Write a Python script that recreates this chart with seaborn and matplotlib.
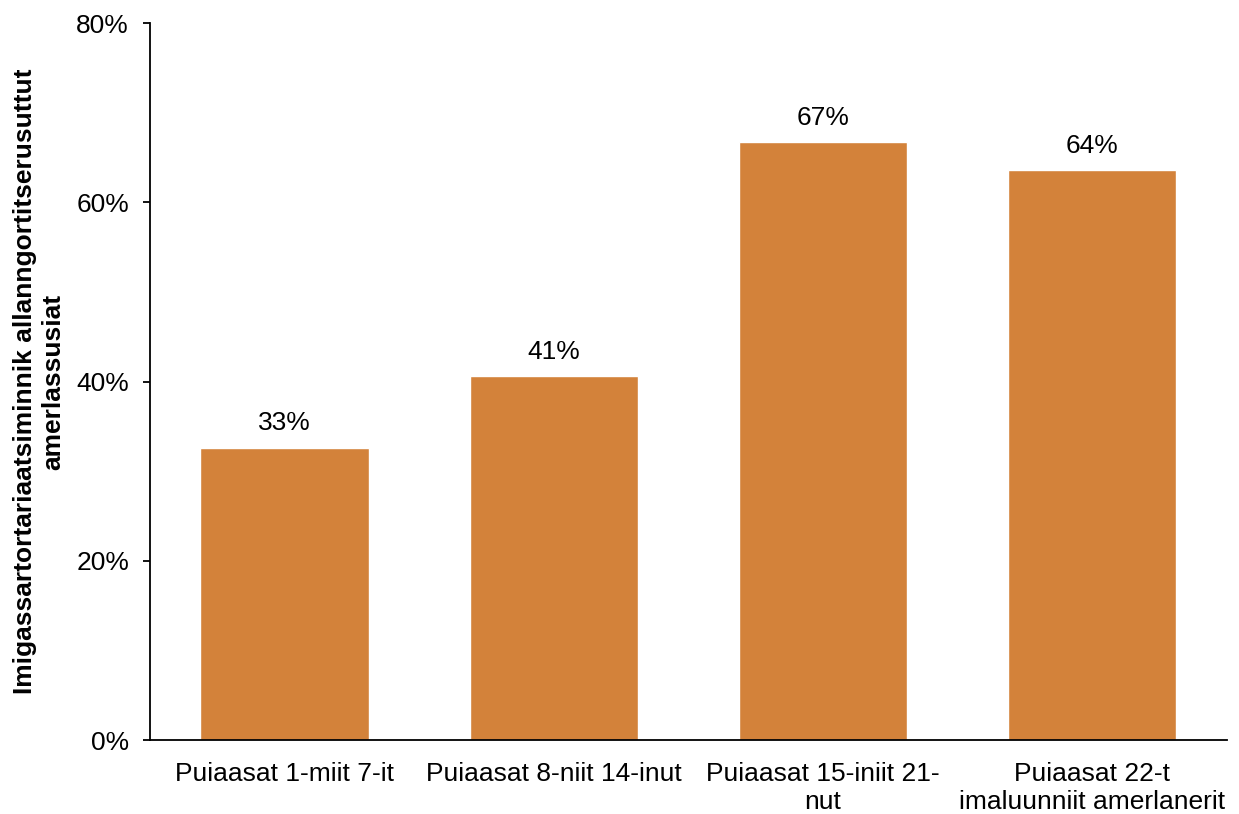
import matplotlib
matplotlib.use("Agg")
import matplotlib.pyplot as plt
import seaborn as sns
import pandas as pd
from matplotlib.ticker import FuncFormatter

categories = ["Puiaasat 1-miit 7-it", "Puiaasat 8-niit 14-inut",
              "Puiaasat 15-iniit 21-\nnut", "Puiaasat 22-t\nimaluunniit amerlanerit"]
values = [32.6, 40.6, 66.7, 63.6]
labels = ["33%", "41%", "67%", "64%"]
ylabel = "Imigassartortariaatsiminnik allanngortitserusuttut\namerlassusiat"

sns.set_theme(style="white")
plt.rcParams['font.family'] = ['Liberation Sans', 'DejaVu Sans']

df = pd.DataFrame({"cat": categories, "val": values})

fig = plt.figure(figsize=(12.39, 8.14), dpi=100)
ax = fig.add_axes([0.121, 0.0909, 0.869, 0.8808])
sns.barplot(data=df, x="cat", y="val", color="#D3823A", saturation=1, width=0.625, ax=ax)

for p, lab in zip(ax.patches, labels):
    ax.annotate(lab, (p.get_x() + p.get_width() / 2, p.get_height()),
                xytext=(0, 9), textcoords="offset points",
                ha="center", va="bottom", fontsize=19, color="black")

ax.set_ylim(0, 80)
ax.set_xlim(-0.5, 3.5)
ax.set_yticks([0, 20, 40, 60, 80])
ax.yaxis.set_major_formatter(FuncFormatter(lambda v, _: f"{v:.0f}%"))
ax.set_xlabel("")
ax.set_ylabel(ylabel, fontsize=19, fontweight="bold", labelpad=8, color="black")
ax.tick_params(axis="y", left=True, length=5, width=1.3, labelsize=19, colors="black", pad=10)
ax.tick_params(axis="x", bottom=False, labelsize=19, colors="black", pad=10)
for lbl in ax.get_xticklabels():
    lbl.set_ha("center")
for s in ["top", "right"]:
    ax.spines[s].set_visible(False)
for s in ["left", "bottom"]:
    ax.spines[s].set_color("black")
    ax.spines[s].set_linewidth(1.3)

fig.savefig("out.png", dpi=100)
